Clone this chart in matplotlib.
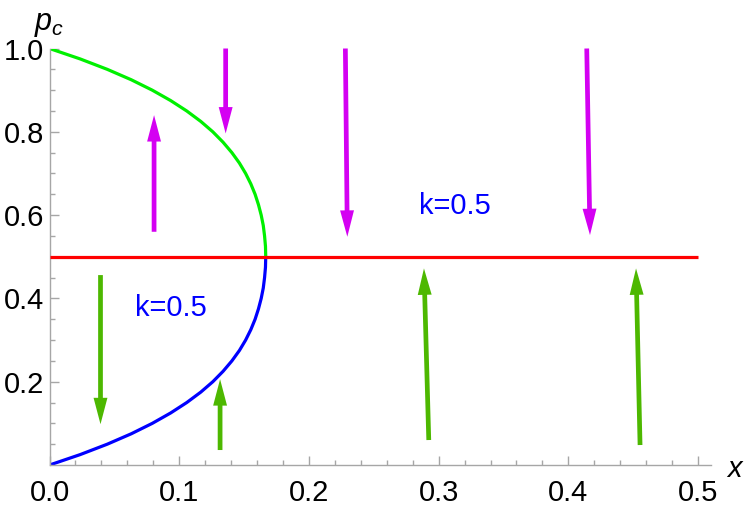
import matplotlib
matplotlib.use("Agg")
import matplotlib.pyplot as plt
from matplotlib.ticker import FixedLocator

plt.rcParams["font.family"] = ["Liberation Sans", "DejaVu Sans"]
plt.rcParams["mathtext.fontset"] = "custom"
plt.rcParams["mathtext.it"] = "Liberation Sans:italic"
plt.rcParams["mathtext.rm"] = "Liberation Sans"

# ------------------------------------------------------------
# Data
# ------------------------------------------------------------
# lower (blue) branch: p from 0 to 0.5
lower_p = [0.0, 0.025, 0.05, 0.075, 0.1, 0.125, 0.15, 0.175, 0.2, 0.225, 0.25,
           0.275, 0.3, 0.325, 0.35, 0.375, 0.4, 0.425, 0.45, 0.475, 0.5]
lower_x = [0.0, 0.0236, 0.0445, 0.0630, 0.0792, 0.0934, 0.1058, 0.1166, 0.1259,
           0.1338, 0.1406, 0.1464, 0.1512, 0.1552, 0.1585, 0.1611, 0.1632,
           0.1648, 0.1658, 0.1665, 0.1667]

# upper (green) branch: p from 0.5 to 1
upper_p = [0.5, 0.525, 0.55, 0.575, 0.6, 0.625, 0.65, 0.675, 0.7, 0.725, 0.75,
           0.775, 0.8, 0.825, 0.85, 0.875, 0.9, 0.925, 0.95, 0.975, 1.0]
upper_x = [0.1667, 0.1665, 0.1658, 0.1648, 0.1632, 0.1611, 0.1585, 0.1552,
           0.1512, 0.1464, 0.1406, 0.1338, 0.1259, 0.1166, 0.1058, 0.0934,
           0.0792, 0.0630, 0.0445, 0.0236, 0.0]

# horizontal fixed-point line
line_x = [0.0, 0.5]
line_p = [0.5, 0.5]

# arrows: (tail_x, tail_y, tip_x, tip_y)
magenta_arrows = [
    (0.0806, 0.560, 0.0806, 0.840),
    (0.1358, 1.000, 0.1358, 0.796),
    (0.2281, 1.000, 0.2296, 0.548),
    (0.4142, 1.000, 0.4167, 0.552),
]
green_arrows = [
    (0.0393, 0.456, 0.0393, 0.098),
    (0.1315, 0.036, 0.1315, 0.206),
    (0.2924, 0.060, 0.2887, 0.472),
    (0.4553, 0.048, 0.4522, 0.472),
]

labels = [
    (0.3124, 0.621, "k=0.5"),
    (0.0939, 0.378, "k=0.5"),
]

x_major = [0.0, 0.1, 0.2, 0.3, 0.4, 0.5]
y_major = [0.2, 0.4, 0.6, 0.8, 1.0]

# ------------------------------------------------------------
# Plot
# ------------------------------------------------------------
fig = plt.figure(figsize=(7.47, 5.09), dpi=100)
ax = fig.add_axes([0.0663, 0.0864, 0.8855, 0.8183])

ax.plot(lower_x, lower_p, color="#0000FF", lw=2.3, solid_capstyle="butt", zorder=2)
ax.plot(upper_x, upper_p, color="#00F000", lw=2.3, solid_capstyle="butt", zorder=2)
ax.plot(line_x, line_p, color="#FF0000", lw=2.3, solid_capstyle="butt", zorder=3)

# filled arrow shape: shaft ~4.7 px, head ~14 px wide, ~26 px long
arrow_style = "simple,head_length=1.9,head_width=1.0,tail_width=0.34"
for color, arrows in (("#D400F2", magenta_arrows), ("#4DB800", green_arrows)):
    for x0, y0, x1, y1 in arrows:
        ax.annotate("", xy=(x1, y1), xytext=(x0, y0),
                    arrowprops=dict(arrowstyle=arrow_style, fc=color, ec="none",
                                    lw=0, shrinkA=0, shrinkB=0, mutation_scale=10),
                    zorder=4)

for lx, ly, txt in labels:
    ax.text(lx, ly, txt, color="#0000FF", fontsize=21, ha="center", va="center")

ax.set_xlim(0, 0.51)
ax.set_ylim(0, 1.0)
ax.xaxis.set_major_locator(FixedLocator(x_major))
ax.yaxis.set_major_locator(FixedLocator(y_major))
ax.xaxis.set_minor_locator(FixedLocator([v / 100 for v in range(2, 50, 2) if v % 10]))
ax.yaxis.set_minor_locator(FixedLocator([v / 100 for v in range(5, 100, 5) if v % 20]))
ax.xaxis.set_major_formatter(plt.FuncFormatter(lambda v, _: f"{v:.1f}"))
ax.yaxis.set_major_formatter(plt.FuncFormatter(lambda v, _: f"{v:.1f}"))

for s in ("top", "right"):
    ax.spines[s].set_visible(False)
for s in ("left", "bottom"):
    ax.spines[s].set_color("#A6A6A6")
    ax.spines[s].set_linewidth(1.0)

ax.tick_params(which="both", direction="in", color="#A6A6A6", width=1.0,
               labelsize=21, labelcolor="black")
ax.tick_params(which="major", length=6.5)
ax.tick_params(which="minor", length=3.5)
ax.tick_params(axis="x", which="major", pad=10)
ax.tick_params(axis="y", which="major", pad=4)

fig.text(49 / 747, 1 - 24 / 509, "$p_c$", fontsize=22, ha="center", va="center")
fig.text(735 / 747, 1 - 469 / 509, "$x$", fontsize=21, ha="center", va="center")

fig.savefig("out.png", dpi=100)
